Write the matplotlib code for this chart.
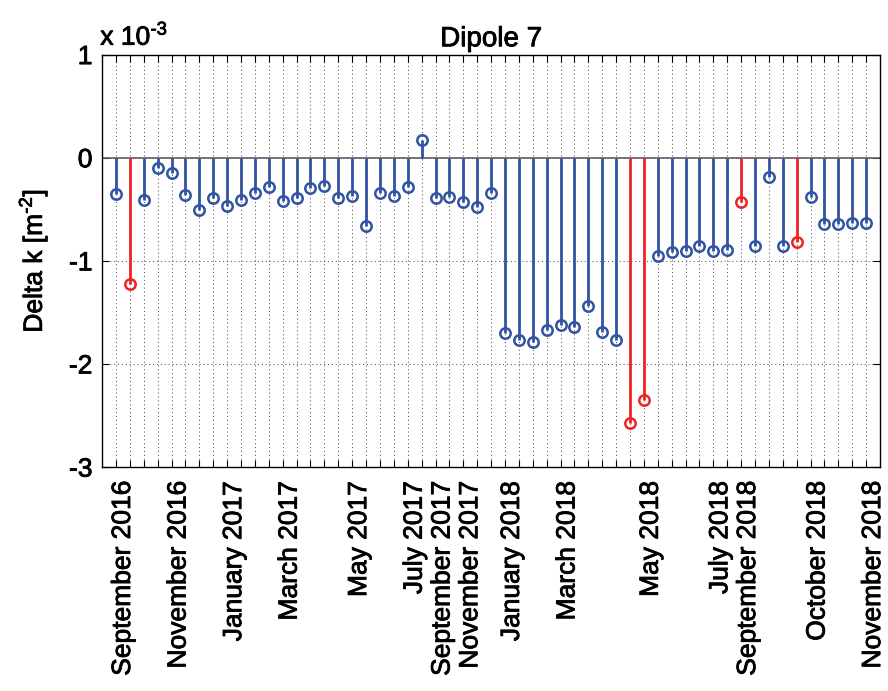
#!/usr/bin/env python

import numpy as np
import matplotlib.pyplot as plt
import matplotlib.patheffects as pe
from matplotlib.transforms import ScaledTranslation

# delta k per measurement, in units of 1e-3 m^-2
delta_k = [-0.355, -1.22, -0.41, -0.10, -0.145, -0.36, -0.51, -0.39, -0.47, -0.41,
           -0.34, -0.28, -0.42, -0.39, -0.29, -0.27, -0.39, -0.37, -0.665, -0.34,
           -0.375, -0.28, 0.17, -0.39, -0.38, -0.43, -0.48, -0.34, -1.70, -1.77,
           -1.785, -1.675, -1.62, -1.645, -1.435, -1.69, -1.765, -2.57, -2.35, -0.95,
           -0.91, -0.905, -0.86, -0.90, -0.89, -0.43, -0.86, -0.19, -0.86, -0.82,
           -0.38, -0.64, -0.64, -0.633, -0.636]

# measurements drawn in red
flagged = [2, 38, 39, 46, 50]

label_pos = [1, 5, 9, 13, 18, 22, 24, 26, 29, 33, 39, 44, 46, 51, 55]
label_txt = ["September 2016", "November 2016", "January 2017", "March 2017",
             "May 2017", "July 2017", "September 2017", "November 2017",
             "January 2018", "March 2018", "May 2018", "July 2018",
             "September 2018", "October 2018", "November 2018"]

plt.rcParams['font.family'] = ['Liberation Sans', 'DejaVu Sans']
plt.rcParams['axes.unicode_minus'] = False
plt.rcParams['mathtext.fontset'] = 'custom'
plt.rcParams['mathtext.rm'] = 'Liberation Sans'

blue = '#3153a3'
red = '#ee2424'
heavy = [pe.withStroke(linewidth=0.6, foreground='black')]

fig = plt.figure(figsize=(8.88, 6.91), dpi=100)
ax = fig.add_axes([0.115, 0.324, 0.876, 0.597])

x = np.arange(1, len(delta_k) + 1)
vals = np.array(delta_k)
is_red = np.isin(x, flagged)

for mask, c in [(~is_red, blue), (is_red, red)]:
    ml, sl, bl = ax.stem(x[mask], vals[mask], basefmt=' ')
    plt.setp(sl, color=c, linewidth=2.0, zorder=3)
    plt.setp(ml, marker='o', markerfacecolor='none', markeredgecolor=c,
             markeredgewidth=1.8, markersize=7.5, zorder=4)

ax.axhline(0, color='#606060', lw=1.2, zorder=2)

ax.set_xlim(0, 56)
ax.set_ylim(-3, 1)
ax.set_yticks([-3, -2, -1, 0, 1])
ax.set_xticks(x)
ax.set_xticklabels([label_txt[label_pos.index(i)] if i in label_pos else ''
                    for i in x], rotation=90)

ax.grid(True, linestyle=(0, (1, 3)), color='#444444', linewidth=0.7)
ax.tick_params(axis='both', direction='in', length=5, width=0.8,
               top=True, right=True, labelsize=19)
ax.tick_params(axis='x', pad=10)
ax.tick_params(axis='y', pad=7)

# shift the rotated labels a little right, like the original
shift = ScaledTranslation(7 / 100, 0, fig.dpi_scale_trans)
for lab in ax.get_xticklabels():
    lab.set_transform(lab.get_transform() + shift)
for lab in ax.get_xticklabels() + ax.get_yticklabels():
    lab.set_path_effects(heavy)

for s in ax.spines.values():
    s.set_linewidth(1.0)

t = ax.set_title("Dipole 7", fontsize=20, pad=6)
yl = ax.set_ylabel(r"Delta k [m$^{\text{-2}}$]", fontsize=19, labelpad=14)
ot = fig.text(0.113, 0.935, r"x 10$^{\text{-3}}$", fontsize=19,
              va='baseline', ha='left')
for tx in (t, yl, ot):
    tx.set_path_effects(heavy)

plt.savefig("out.png", dpi=100)
